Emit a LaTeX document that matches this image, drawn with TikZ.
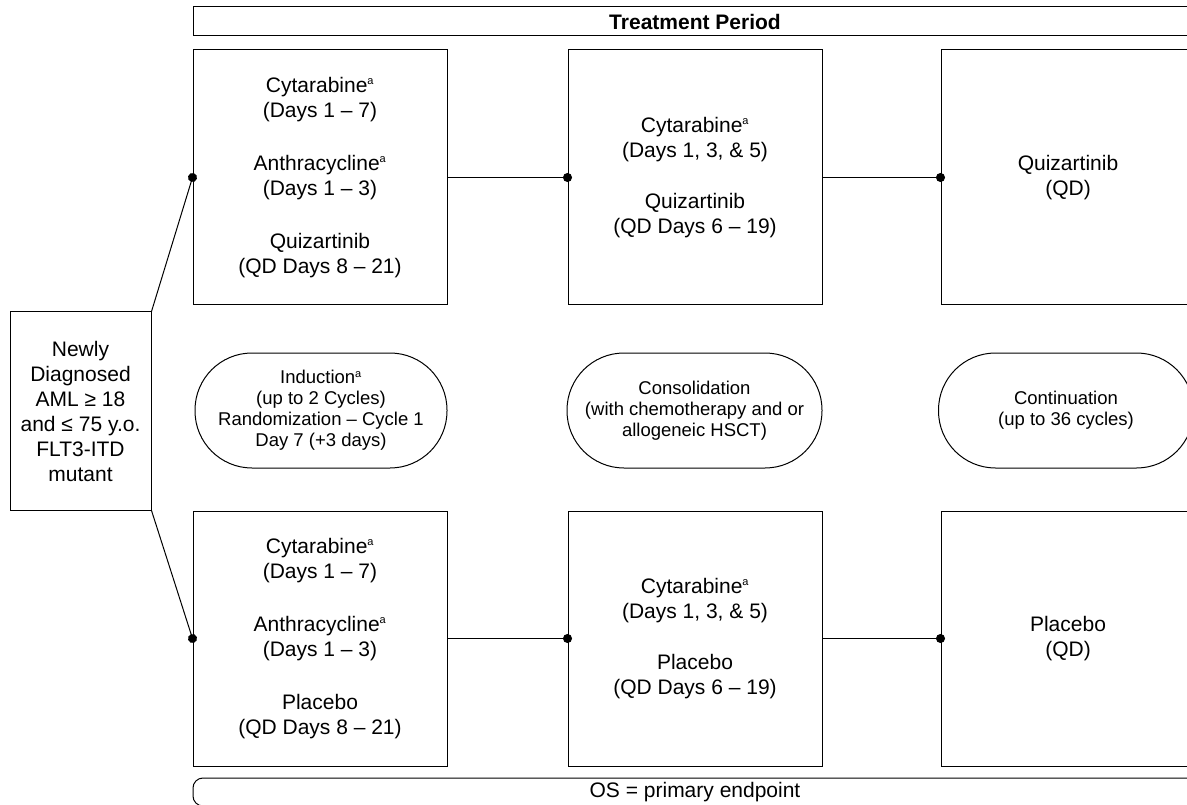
\documentclass[tikz,border=0pt]{standalone}
\usepackage{fontspec}
\setmainfont{Liberation Sans}
\usetikzlibrary{positioning,arrows.meta}
\newcommand{\fnA}{\textsuperscript{\fontsize{11}{11}\selectfont a}}

\begin{document}
\begin{tikzpicture}[x=1pt, y=-1pt, line width=1pt]
\tikzset{ArmStyle/.style = {shape=rectangle, draw, inner sep=0, minimum width=254pt, minimum height=255pt, align=center, font=\fontsize{21}{25}\selectfont}}
\tikzset{PhaseStyle/.style = {shape=rectangle, draw, rounded corners=57pt, minimum width=252pt, minimum height=115pt, align=center, font=\fontsize{18.5}{21}\selectfont}}
\tikzset{BarStyle/.style = {shape=rectangle, draw, inner sep=0, minimum width=1004pt, font=\fontsize{21}{25}\selectfont}}
\tikzset{JoinStyle/.style = {-{Circle[length=9pt]}, shorten >=-4.5pt}}
  \useasboundingbox (0,0) rectangle (1187,805);
  \clip (0,0) rectangle (1187,805);
  % header and footer
  \node[BarStyle, minimum height=29pt, font=\bfseries\fontsize{21}{25}\selectfont] (period) at (695,21.5) {Treatment Period};
  \node[BarStyle, minimum height=28pt, rounded corners=10pt] (os) at (695,792) {OS = primary endpoint};
  % patients
  \node[ArmStyle, minimum width=141pt, minimum height=198pt] (pat) at (80.5,411)
    {Newly\\Diagnosed\\AML ≥ 18\\and ≤ 75 y.o.\\FLT3-ITD\\mutant};
  % quizartinib arm
  \node[ArmStyle] (qInd) at (320,177.5)
    {Cytarabine\fnA\\(Days 1 \textendash{} 7)\\[28pt]Anthracycline\fnA\\(Days 1 \textendash{} 3)\\[28pt]Quizartinib\\(QD Days 8 \textendash{} 21)};
  \node[ArmStyle, right=120pt of qInd] (qCon)
    {Cytarabine\fnA\\(Days 1, 3, \& 5)\\[26pt]Quizartinib\\(QD Days 6 \textendash{} 19)};
  \node[ArmStyle, right=118pt of qCon] (qCnt) {Quizartinib\\(QD)};
  % placebo arm
  \node[ArmStyle, below=205pt of qInd] (pInd)
    {Cytarabine\fnA\\(Days 1 \textendash{} 7)\\[28pt]Anthracycline\fnA\\(Days 1 \textendash{} 3)\\[28pt]Placebo\\(QD Days 8 \textendash{} 21)};
  \node[ArmStyle, right=120pt of pInd] (pCon)
    {Cytarabine\fnA\\(Days 1, 3, \& 5)\\[26pt]Placebo\\(QD Days 6 \textendash{} 19)};
  \node[ArmStyle, right=118pt of pCon] (pCnt) {Placebo\\(QD)};
  % phases
  \node[PhaseStyle] (ind) at (321,410.5)
    {Induction\fnA\\(up to 2 Cycles)\\Randomization \textendash{} Cycle 1\\Day 7 (+3 days)};
  \node[PhaseStyle, minimum width=255pt] (con) at (694.5,410.5)
    {Consolidation\\(with chemotherapy and or\\allogeneic HSCT)};
  \node[PhaseStyle, minimum width=255pt] (cnt) at (1066,410.5) {Continuation\\(up to 36 cycles)};
  % connections
  \draw[JoinStyle] (pat.north east) -- (qInd.west);
  \draw[JoinStyle] (pat.south east) -- (pInd.west);
  \draw[JoinStyle] (qInd.east) -- (qCon.west);
  \draw[JoinStyle] (qCon.east) -- (qCnt.west);
  \draw[JoinStyle] (pInd.east) -- (pCon.west);
  \draw[JoinStyle] (pCon.east) -- (pCnt.west);
\end{tikzpicture}
\end{document}
